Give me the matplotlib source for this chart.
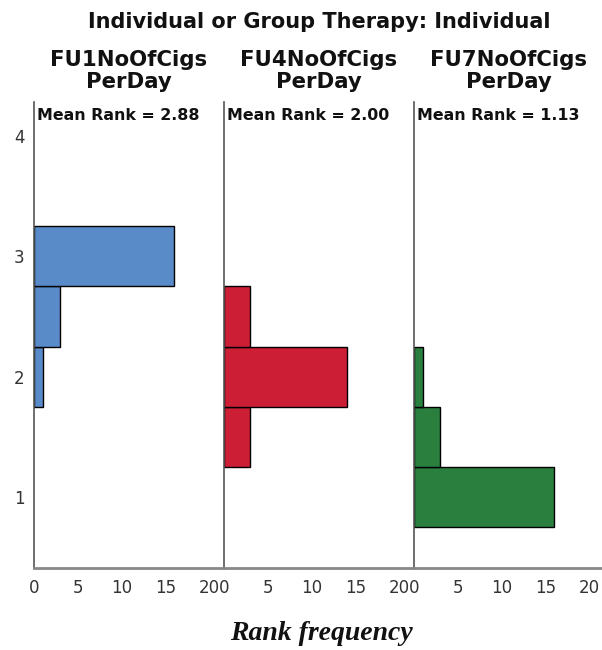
import matplotlib
matplotlib.use("Agg")
import matplotlib.pyplot as plt

# ---- data ----
rank_bins = [1.0, 1.5, 2.0, 2.5, 3.0]
variables = ["FU1NoOfCigs\nPerDay", "FU4NoOfCigs\nPerDay", "FU7NoOfCigs\nPerDay"]
fu1_freq = [0, 0, 1, 3, 16]
fu4_freq = [0, 3, 14, 3, 0]
fu7_freq = [16, 3, 1, 0, 0]
mean_ranks = ["2.88", "2.00", "1.13"]
colors = ["#5A8BC9", "#CC1F35", "#2A7F3F"]
x_ticks = [0, 5, 10, 15, 20]
y_ticks = [1, 2, 3, 4]
title = "Individual or Group Therapy: Individual"
x_label = "Rank frequency"

freqs = [fu1_freq, fu4_freq, fu7_freq]

W, H = 602, 650
fig = plt.figure(figsize=(W / 100, H / 100), dpi=100)

left0 = 34
pw = 190
bottom_px = 568
top_px = 102

for i in range(3):
    ax = fig.add_axes([(left0 + i * pw) / W, (H - bottom_px) / H,
                       pw / W, (bottom_px - top_px) / H])
    ys = [y for y, f in zip(rank_bins, freqs[i]) if f > 0]
    fs = [f for f in freqs[i] if f > 0]
    ax.barh(ys, fs, height=0.5, left=0, color=colors[i],
            edgecolor="black", linewidth=1.0, zorder=2)
    ax.set_xlim(0, 21.7)
    ax.set_ylim(0.413, 4.28)
    ax.set_xticks(x_ticks)
    ax.set_xticklabels([str(t) for t in x_ticks])
    ax.set_yticks(y_ticks)
    if i == 0:
        ax.set_yticklabels([str(t) for t in y_ticks])
    else:
        ax.set_yticklabels([])
    ax.tick_params(axis="both", length=0, labelsize=12, colors="#333333")
    ax.tick_params(axis="x", pad=8)
    ax.tick_params(axis="y", pad=7)
    for s in ["top", "right"]:
        ax.spines[s].set_visible(False)
    ax.spines["left"].set_color("#555555")
    ax.spines["left"].set_linewidth(1.2)
    ax.spines["bottom"].set_color("#888888")
    ax.spines["bottom"].set_linewidth(2.0)
    ax.text(3 / pw, 0.97, "Mean Rank = " + mean_ranks[i],
            transform=ax.transAxes, ha="left", va="center",
            fontsize=11.4, fontweight="bold", color="#111111")
    cx = (left0 + i * pw + pw / 2) / W
    fig.text(cx, 1 - 71 / H, variables[i], ha="center", va="center",
             fontsize=15.3, fontweight="bold", linespacing=1.08, color="#111111")

fig.text((90 + 548) / 2 / W, 1 - 22 / H, title, ha="center", va="center",
         fontsize=15, fontweight="bold", color="#111111")
fig.text(321 / W, 1 - 634 / H, x_label, ha="center", va="center",
         fontsize=20, fontstyle="italic", fontweight="bold",
         family="Liberation Serif", color="#111111")

fig.savefig("out.png", dpi=100)
